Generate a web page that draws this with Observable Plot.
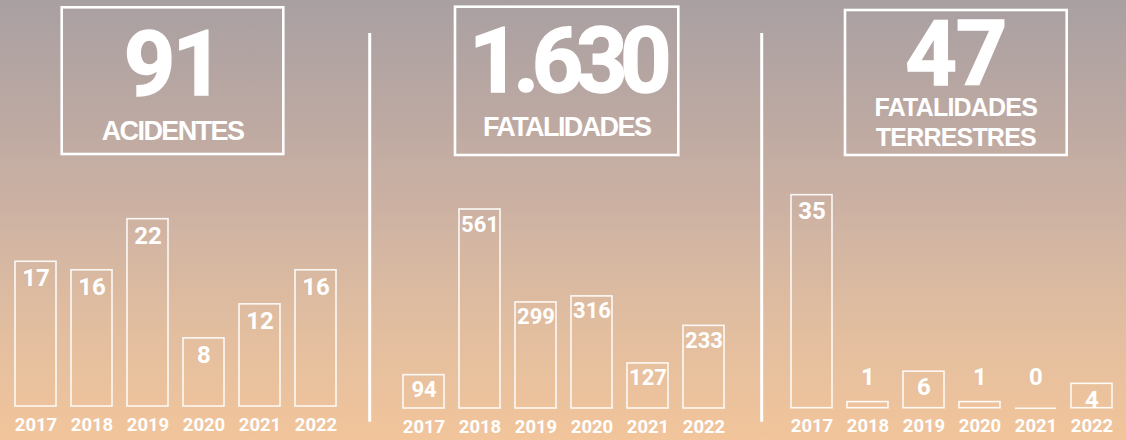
<!DOCTYPE html>
<html><head><meta charset="utf-8">
<script src="https://cdn.jsdelivr.net/npm/d3@7"></script>
<script src="https://cdn.jsdelivr.net/npm/@observablehq/plot@0.6"></script>
<style>
body{margin:0;}
#chart{position:relative;width:1126px;height:440px;overflow:hidden;
background:linear-gradient(to bottom,#a9a0a2 0%,#bba8a2 25%,#cdb2a3 48%,#e0bda0 72%,#f2c59b 100%);}
#chart svg{position:absolute;left:0;top:0;}
</style></head><body><div id="chart"></div>
<script>
// ---- data ----
const years = ["2017","2018","2019","2020","2021","2022"];
const acidentes = [17, 16, 22, 8, 12, 16];
const fatalidades = [94, 561, 299, 316, 127, 233];
const terrestres = [35, 1, 6, 1, 0, 4];
const labels1 = ["ACIDENTES"];
const labels2 = ["FATALIDADES"];
const labels3 = ["FATALIDADES", "TERRESTRES"];

// ---- layout ----
const W = 1126, H = 440;
const panels = [
  {values: acidentes, labels: labels1, ml: 13.3, mr: 789.3, mt: 218.7, mb: 34, fs: 24, dy: 17,
   box: [61.7, 7.3, 283.3, 154], numBase: 95, numLs: -3, lineBase: [140], capFs: 27, capLs: -1.6},
  {values: fatalidades, labels: labels2, ml: 402.3, mr: 400.7, mt: 209, mb: 32, fs: 22, dy: 15,
   box: [455, 6.7, 678.3, 155], numBase: 92, numLs: -7.5, lineBase: [136], capFs: 27, capLs: -1.6},
  {values: terrestres, labels: labels3, ml: 790.3, mr: 12.7, mt: 194.7, mb: 32.3, fs: 24, dy: 16,
   box: [845, 10, 1066.7, 155], numBase: 85, numLs: -1, lineBase: [116, 145.5], capFs: 25, capLs: -0.8}
];
const dividers = [369.7, 761.7];

const fmt = d3.formatLocale({decimal: ",", thousands: ".", grouping: [3], currency: ["R$", ""]}).format(",d");
const numFont = "Roboto, 'Liberation Sans', sans-serif";
const capFont = "'Liberation Sans', Arial, sans-serif";

const chart = document.getElementById("chart");

function panel(p) {
  const data = years.map((y, i) => ({year: y, value: p.values[i]}));
  const max = d3.max(p.values);
  return Plot.plot({
    width: W, height: H,
    marginLeft: p.ml, marginRight: p.mr, marginTop: p.mt, marginBottom: p.mb,
    style: {background: "transparent", color: "white", fontFamily: numFont, overflow: "visible"},
    x: {domain: years, paddingInner: 0.27, paddingOuter: 0, axis: null},
    y: {domain: [0, max], axis: null},
    marks: [
      Plot.barY(data, {x: "year", y: "value", fill: "none", stroke: "white", strokeWidth: 1.6, strokeOpacity: 0.9}),
      Plot.tickY(data.filter(d => d.value === 0), {x: "year", y: 0, stroke: "white", strokeWidth: 1.6, strokeOpacity: 0.9}),
      Plot.text(data.filter(d => d.value >= 2), {x: "year", y: "value", text: d => String(d.value), dy: p.dy,
        fill: "white", fontSize: p.fs, fontWeight: "bold"}),
      Plot.text(data.filter(d => d.value < 2), {x: "year", text: d => String(d.value), frameAnchor: "bottom", dy: -23,
        fill: "white", fontSize: p.fs, fontWeight: "bold"}),
      Plot.text(years, {x: d => d, text: d => d, frameAnchor: "bottom", dy: 24,
        fill: "white", fontSize: 18.5, fontWeight: "bold"})
    ]
  });
}

for (const p of panels) chart.appendChild(panel(p));

// headers & dividers
const svg = d3.create("svg").attr("width", W).attr("height", H).attr("viewBox", [0, 0, W, H]);
for (const x of dividers) {
  svg.append("line").attr("x1", x).attr("x2", x).attr("y1", 33).attr("y2", 421.7)
    .attr("stroke", "white").attr("stroke-width", 3);
}
for (const p of panels) {
  const [x0, y0, x1, y1] = p.box;
  const cx = (x0 + x1) / 2;
  svg.append("rect").attr("x", x0).attr("y", y0).attr("width", x1 - x0).attr("height", y1 - y0)
    .attr("fill", "none").attr("stroke", "white").attr("stroke-width", 2.6);
  svg.append("text").attr("x", cx).attr("y", p.numBase).attr("text-anchor", "middle")
    .attr("fill", "white").attr("stroke", "white").attr("stroke-width", 1.5)
    .attr("font-family", numFont).attr("font-weight", "bold")
    .attr("font-size", 90).attr("letter-spacing", p.numLs).text(fmt(d3.sum(p.values)));
  p.labels.forEach((t, i) => {
    svg.append("text").attr("x", cx).attr("y", p.lineBase[i]).attr("text-anchor", "middle")
      .attr("fill", "white").attr("font-family", capFont).attr("font-weight", "bold")
      .attr("font-size", p.capFs).attr("letter-spacing", p.capLs).text(t);
  });
}
chart.appendChild(svg.node());
</script>
</body></html>
